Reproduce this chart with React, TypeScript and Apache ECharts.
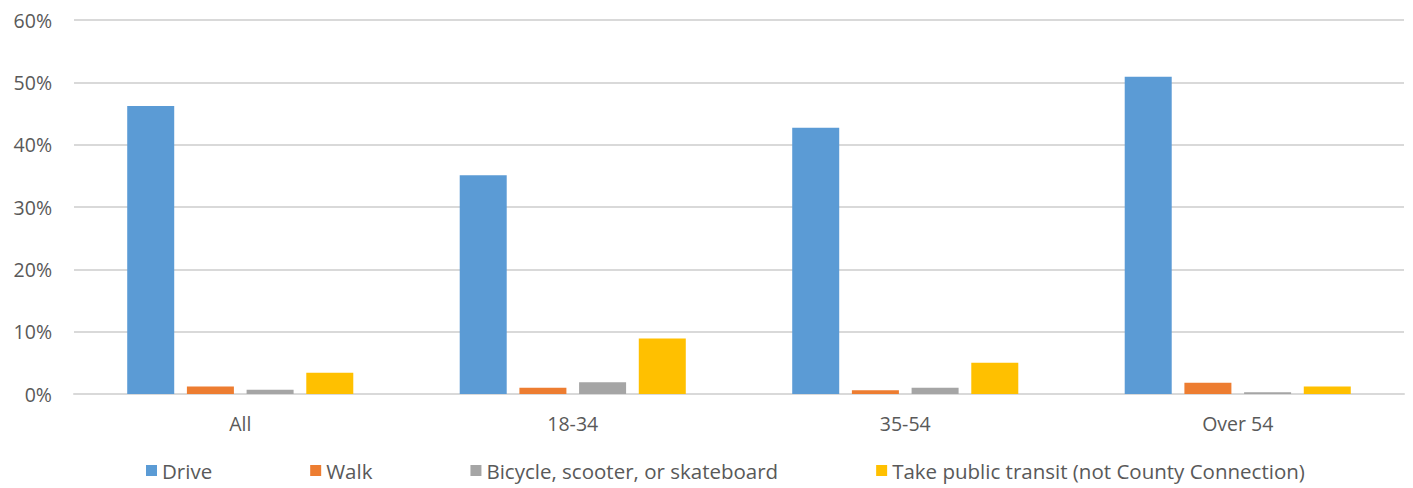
import React, { useEffect, useRef } from "react";
import * as echarts from "echarts";

const categories = ["All", "18-34", "35-54", "Over 54"];
const seriesNames = [
  "Drive",
  "Walk",
  "Bicycle, scooter, or skateboard",
  "Take public transit (not County Connection)",
];
const drive = [46.2, 35.1, 42.7, 50.9];
const walk = [1.2, 1.0, 0.6, 1.8];
const bicycle = [0.7, 1.9, 1.0, 0.3];
const transit = [3.4, 8.9, 5.0, 1.2];
const colors = ["#5b9bd5", "#ed7d31", "#a5a5a5", "#ffc000"];

const FONT = "'Open Sans', 'Noto Sans', sans-serif";
const FS = 19.5;

export default function App() {
  const ref = useRef<HTMLDivElement>(null);
  useEffect(() => {
    if (!ref.current) return;
    const chart = echarts.init(ref.current, null, { renderer: "svg" });
    const values = [drive, walk, bicycle, transit];
    chart.setOption({
      animation: false,
      color: colors,
      grid: { left: 74, right: 9, top: 20, bottom: 94, containLabel: false },
      legend: {
        bottom: 2,
        left: 141,
        itemWidth: 11,
        itemHeight: 11,
        itemGap: 98,
        icon: "rect",
        textStyle: { color: "#595959", fontSize: 20.5, fontFamily: FONT },
        data: seriesNames,
      },
      xAxis: {
        type: "category",
        data: categories,
        axisLine: { lineStyle: { color: "#d9d9d9", width: 2 } },
        axisTick: { show: false },
        axisLabel: { color: "#595959", fontSize: FS, fontFamily: FONT, margin: 19 },
      },
      yAxis: {
        type: "value",
        min: 0,
        max: 60,
        interval: 10,
        axisLine: { show: false },
        axisTick: { show: false },
        splitLine: { lineStyle: { color: "#d9d9d9", width: 2 } },
        axisLabel: {
          color: "#595959",
          fontSize: FS,
          fontFamily: FONT,
          margin: 22,
          formatter: "{value}%",
        },
      },
      series: seriesNames.map((name, i) => ({
        name,
        type: "bar",
        data: values[i],
        barWidth: 47,
        barGap: "27%",
        itemStyle: { color: colors[i] },
      })),
    });
    return () => chart.dispose();
  }, []);
  return <div ref={ref} style={{ width: 1413, height: 488, position: "absolute", left: 0, top: 0 }} />;
}
